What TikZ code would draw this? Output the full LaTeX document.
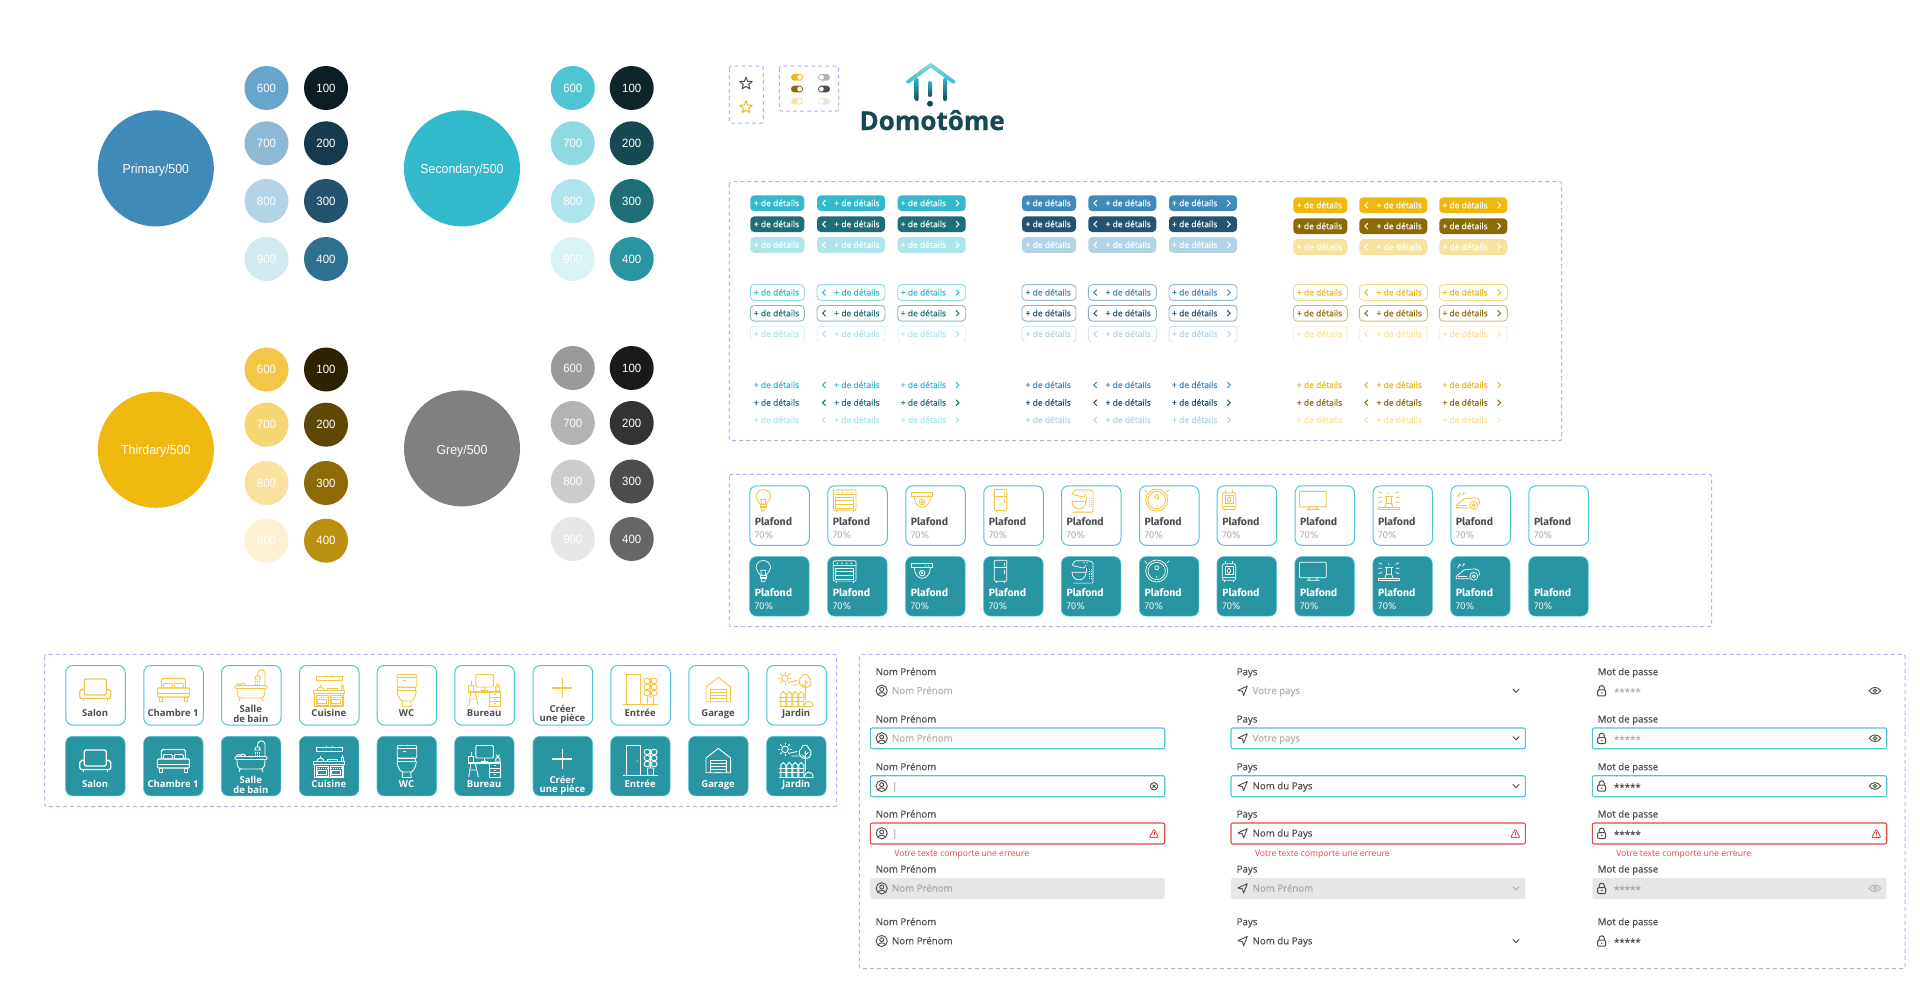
\documentclass[tikz,border=0pt]{standalone}
\usepackage{fontspec}
\usetikzlibrary{shapes.geometric}
\setmainfont{Open Sans}
\newfontfamily\osmed{Open Sans}[FakeBold=0.3]
\newfontfamily\osxb{Open Sans Bold}[FakeBold=0.7]
\newfontfamily\rbt{Liberation Sans}[FakeStretch=0.95]
\newfontfamily\fira{Fira Sans}
\newcommand\fsz[1]{\fontsize{#1}{#1}\selectfont}
\newcommand\lowlabel[2]{\raisebox{#1}[0pt][0pt]{#2}}
\newcount\nid
% palettes
\definecolor{pA}{HTML}{408ABA}\definecolor{pB}{HTML}{25526F}\definecolor{pC}{HTML}{B4D3E5}\definecolor{pD}{HTML}{8EB9D5}\definecolor{pE}{HTML}{8FAFC4}\definecolor{pF}{HTML}{D2E6F0}
\definecolor{cA}{HTML}{33B9CC}\definecolor{cB}{HTML}{1E6F75}\definecolor{cC}{HTML}{AEE5EA}\definecolor{cD}{HTML}{8DDAE1}\definecolor{cE}{HTML}{8FB7BA}\definecolor{cF}{HTML}{D9F3F5}
\definecolor{yA}{HTML}{EEB80F}\definecolor{yB}{HTML}{8C6B07}\definecolor{yC}{HTML}{F9E19F}\definecolor{yD}{HTML}{F6D98A}\definecolor{yE}{HTML}{CDB987}\definecolor{yF}{HTML}{FDF1D3}
\definecolor{teal4}{HTML}{2A95A2}\definecolor{cyan6}{HTML}{4FC5D3}\definecolor{yic}{HTML}{F3C647}
\definecolor{dk}{HTML}{4D4D4D}\definecolor{gb}{HTML}{B0B0B0}\definecolor{gc}{HTML}{A6A6A6}\definecolor{gdis}{HTML}{E6E6E6}
\definecolor{redd}{HTML}{E04848}\definecolor{dash}{HTML}{B9AEFA}\definecolor{logo}{HTML}{154A50}
\tikzset{
 box/.style={draw=dash,line width=1pt,dash pattern=on 4pt off 3pt,rounded corners=2pt},
 txt/.style={inner sep=0pt,outer sep=0pt},
 swatch/.style={circle,inner sep=0pt,minimum size=44pt,text=white,font=\rbt\fsz{12}},
 bigsw/.style={circle,inner sep=0pt,minimum size=116pt,text=white,font=\rbt\fsz{13}},
 btnf/.style={rectangle,rounded corners=4pt,inner sep=0pt,minimum height=15.7pt},
 btnt/.style={txt,anchor=base,font=\osmed\fsz{8.5}},
 card/.style={rectangle,rounded corners=7pt,inner sep=0pt,minimum width=59.5pt,minimum height=59.5pt,anchor=north west},
 cardw/.style={card,draw=cyan6,line width=1pt,fill=white},
 cardt/.style={card,draw=cyan6,line width=.6pt,fill=teal4},
 fbox/.style={line width=1.1pt,rounded corners=2pt},
 flab/.style={txt,anchor=base west,font=\osmed\fsz{9.7},text=dk},
 ftext/.style={txt,anchor=base west,font=\osmed\fsz{9.7}},
 toggle/.style={rounded corners=3.2pt},
}
% button rows
\newcommand\frow[5]{%
 \foreach \X/\W/\K in {#1/54/0,#2/68/1,#3/68/2}{%
  \node[btnf,fill=#5,minimum width=\W pt] at ({\X+\W/2},#4) {};
  \ifnum\K=1 \node[btnt,text=white] at (\X+39.9,#4+3) {+ de détails};\draw[white,line width=1pt,line cap=round] (\X+8.4,#4-2.8)--(\X+5.6,#4)--(\X+8.4,#4+2.8);\fi
  \ifnum\K=2 \node[btnt,text=white] at (\X+25.7,#4+3) {+ de détails};\draw[white,line width=1pt,line cap=round] (\X+58.4,#4-2.8)--(\X+61.2,#4)--(\X+58.4,#4+2.8);\fi
  \ifnum\K=0 \node[btnt,text=white] at (\X+26.2,#4+3) {+ de détails};\fi
 }}
\newcommand\orow[7]{% x1 x2 x3 y stroke text open
 \foreach \X/\W/\K in {#1/54/0,#2/68/1,#3/68/2}{%
  \ifnum#7=0
   \node[btnf,fill=white,draw=#5,line width=.9pt,minimum width=\W pt] at ({\X+\W/2},#4) {};
  \else
   \draw[#5,line width=.9pt,rounded corners=3pt] (\X+3,#4+7.6)--(\X,#4+7.6)--(\X,#4-7.6)--(\X+\W,#4-7.6)--(\X+\W,#4+7.6)--(\X+\W-3,#4+7.6);
  \fi
  \ifnum\K=1 \node[btnt,text=#6] at (\X+39.9,#4+3) {+ de détails};\draw[#6,line width=1pt,line cap=round] (\X+8.4,#4-2.8)--(\X+5.6,#4)--(\X+8.4,#4+2.8);\fi
  \ifnum\K=2 \node[btnt,text=#6] at (\X+25.7,#4+3) {+ de détails};\draw[#6,line width=1pt,line cap=round] (\X+58.4,#4-2.8)--(\X+61.2,#4)--(\X+58.4,#4+2.8);\fi
  \ifnum\K=0 \node[btnt,text=#6] at (\X+26.2,#4+3) {+ de détails};\fi
 }}
\newcommand\trow[5]{%
 \foreach \X/\W/\K in {#1/54/0,#2/68/1,#3/68/2}{%
  \ifnum\K=1 \node[btnt,text=#5] at (\X+39.9,#4+3) {+ de détails};\draw[#5,line width=1pt,line cap=round] (\X+8.4,#4-2.8)--(\X+5.6,#4)--(\X+8.4,#4+2.8);\fi
  \ifnum\K=2 \node[btnt,text=#5] at (\X+25.7,#4+3) {+ de détails};\draw[#5,line width=1pt,line cap=round] (\X+58.4,#4-2.8)--(\X+61.2,#4)--(\X+58.4,#4+2.8);\fi
  \ifnum\K=0 \node[btnt,text=#5] at (\X+26.2,#4+3) {+ de détails};\fi
 }}
% room icons (card-local coordinates)
\newcommand\icoSalon{%
 \draw[line width=1.3pt,rounded corners=2pt] (19,25)--(19,14)--(41,14)--(41,25);
 \draw[line width=1.3pt,rounded corners=2pt] (14.5,33.5)--(14.5,24.5)--(19,24)--(19,30)--(41,30)--(41,24)--(45.5,24.5)--(45.5,33.5)--cycle;
 \draw[line width=1.3pt] (18,33.5)--(18,35.5) (42,33.5)--(42,35.5);}
\newcommand\icoChambre{%
 \draw[line width=1.1pt,rounded corners=1.5pt] (18,23)--(18,13.5)--(42,13.5)--(42,23);
 \draw[rounded corners=1pt] (20,23) rectangle (29,18.5) (31,23) rectangle (40,18.5);
 \draw[line width=1.1pt,rounded corners=1pt] (14,23) rectangle (46,32);
 \draw (14,28)--(46,28);
 \draw (16,32) rectangle (19,36) (41,32) rectangle (44,36);}
\newcommand\icoBain{%
 \draw[rounded corners=1pt] (14,20.5) rectangle (46,23.5);
 \draw (16,23.5) .. controls (16,33) and (18,33) .. (22,33) -- (38,33) .. controls (42,33) and (44,33) .. (44,23.5);
 \draw (19,33)--(18,36) (41,33)--(42,36);
 \draw (15.5,20.5) arc (180:360:2) (19.5,20.5) arc (180:360:2.5);
 \draw (44,20.5)--(44,8.5) arc (0:-180:3.7)--(36.6,11);
 \draw (33.8,14)--(35,11)--(38.2,11)--(39.4,14)--cycle;
 \draw[densely dotted] (34.5,15.5)--(34.5,20) (36.6,15.5)--(36.6,20) (38.7,15.5)--(38.7,20);}
\newcommand\icoCuisine{%
 \draw (17.5,15) rectangle (43,11.5);
 \draw (27,11.5)--(27,10) (33,11.5)--(33,10);
 \draw (14,25.5) rectangle (45.5,28.5);
 \draw (15.5,28.5) rectangle (44,41);
 \draw (17,30) rectangle (29,40) (31,30) rectangle (43,40);
 \draw (18.5,34.5) rectangle (27.5,38.8) (32.5,34.5) rectangle (41.5,38.8);
 \draw[densely dotted] (18,32.2)--(28,32.2) (32,32.2)--(42,32.2);
 \draw (18,25.5) arc (180:360:3.5);\draw (21.5,22)--(21.5,20);
 \draw (42,25.5) rectangle (44,21) (43,21)--(43,18.5);
 \draw (28,25.5) rectangle (38,23.5);}
\newcommand\icoWC{%
 \draw[rounded corners=1pt] (20.5,9.5) rectangle (40,22);
 \draw (20.5,12.5)--(40,12.5) (26,15)--(29,15);
 \draw (21,22.5) rectangle (39,25);
 \draw (20.5,25) .. controls (20.5,33) and (25,36) .. (26,36) -- (34,36) .. controls (35,36) and (39.5,33) .. (39.5,25);
 \draw (26,36)--(25.5,41.5)--(34.5,41.5)--(34,36);}
\newcommand\icoBureau{%
 \draw[rounded corners=1pt] (21.5,9.5) rectangle (39,22);
 \draw (30,22)--(30,25.5) (26.5,25.5)--(33.5,25.5);
 \draw (14,26) rectangle (46,27.5);
 \draw (35.5,27.5) rectangle (46,41) (35.5,32)--(46,32) (35.5,36.5)--(46,36.5);
 \draw (39.5,29.7)--(42,29.7) (39.5,34.2)--(42,34.2) (39.5,38.7)--(42,38.7);
 \draw (16.5,27.5)--(14.5,41) (21,27.5)--(24,41) (16.5,34)--(22.5,34);
 \draw (14.5,26) rectangle (19,20) (16.7,20)--(16.7,16);
 \draw (41.5,26) rectangle (45.5,22) (43.5,22)--(42,18.5) (43.5,22)--(45,18.5);}
\newcommand\icoPlus{%
 \draw[line width=1.3pt] (19.7,23)--(39.7,23) (29.7,12.7)--(29.7,33.3);}
\newcommand\icoEntree{%
 \draw (16.3,39.3)--(16.3,9.3)--(30.3,9.3)--(30.3,39.3);
 \draw (13,39.3)--(47.3,39.3);
 \fill (27,25) circle (.6);
 \draw (37,32)--(43.5,32)--(43,39.3)--(37.5,39.3)--cycle;
 \draw (40.3,32)--(40.3,13);
 \foreach \v in {16,22,28}{\draw (36.8,\v) ellipse (3.1 and 2.7) (43.8,\v) ellipse (3.1 and 2.7);}}
\newcommand\icoGarage{%
 \draw (17.7,36.7)--(17.7,22)--(30,12.3)--(42.3,22)--(42.3,36.7)--cycle;
 \draw (21.7,36.7)--(21.7,24)--(38,24)--(38,36.7);
 \draw (21.7,27)--(38,27) (21.7,30)--(38,30) (21.7,33)--(38,33);
 \draw (27,36)--(33,36);}
\newcommand\icoJardin{%
 \draw (18.7,13.3) circle (3.3);
 \foreach \a in {0,45,...,315}{\draw (18.7,13.3)++(\a:4.6)--++(\a:2.2);}
 \draw (24,17)--(31,15.5) (25,20)--(33,20);
 \draw (39,22.5) .. controls (32,22.5) and (31.5,14) .. (35,12.5) .. controls (35.5,8) and (42,8) .. (42.5,12.5) .. controls (46,14) and (46,22.5) .. (39,22.5);
 \draw (39,15)--(39,35) (39,19)--(42,16.5) (39,22)--(36,19);
 \foreach \v in {14.5,20.5,26.5,32.5}{\draw (\v,41)--(\v,29)--(\v+2.5,26.5)--(\v+5,29)--(\v+5,41);}
 \draw (13,32)--(38,32) (13,36)--(38,36);
 \draw (12.5,41.5)--(47,41.5);
 \draw (38,41) .. controls (38,35) and (46,34) .. (47,41);}
% device icons
\newcommand\icoBulb{%
 \draw (11,19) .. controls (10,16) and (6.7,15) .. (6.7,11.5) arc (180:360:7.3) .. controls (21.3,15) and (18,16) .. (17,19) -- cycle;
 \draw (11,19) rectangle (17,22.5) (11,20.7)--(17,20.7);
 \draw (12,22.5)--(12.5,25.5)--(15.5,25.5)--(16,22.5);
 \draw (12,19)--(11.5,14)--(16.5,14)--(16,19);}
\newcommand\icoOven{%
 \draw[rounded corners=1pt] (6,4.5) rectangle (28.7,24.8);
 \draw (6,9.5)--(28.7,9.5);
 \foreach \v in {10,14.7,19.4,24}{\fill (\v,7) circle (.8);}
 \draw (8.5,12) rectangle (26.2,22.8) (8.5,15.5)--(26.2,15.5) (8.5,19)--(26.2,19);
 \draw (9,24.8)--(9,26.2) (25.7,24.8)--(25.7,26.2);}
\newcommand\icoCam{%
 \draw (6,7.5) rectangle (27,11.5);
 \draw (9,11.5) arc (180:0:8 and 10.5);
 \draw (16.8,16.8) circle (2.8) (16.8,16.8) circle (1);
 \fill (20,9.5) circle (.6) (23,9.5) circle (.6);}
\newcommand\icoFridge{%
 \draw[rounded corners=1pt] (11,4) rectangle (23.5,25);
 \draw (11,11.5)--(23.5,11.5) (21,7)--(21,9.5) (21,14)--(21,18);
 \draw (13,25)--(13,26.3) (21.5,25)--(21.5,26.3);}
\newcommand\icoMixer{%
 \draw[rounded corners=1pt] (12,26.8)--(32,26.8)--(32,6)--(28,4.5)--(14,4.5)--(11,9)--(23,12)--(25,9);
 \draw (11,16) .. controls (11,26) and (25,26) .. (25,16) -- cycle;
 \draw (25,16)--(25,12);
 \draw[densely dotted] (28,13)--(28,22) (30,13)--(30,22);
 \fill (23,6.5) circle (.7) (26,6.5) circle (.7);}
\newcommand\icoRobot{%
 \draw (17.7,14.7) circle (11) (17.7,14.7) circle (8.7) (17.7,11.5) circle (2);
 \draw (8,7)--(5.5,4.5) (27.5,7)--(30,4.5) (17.7,19.5)--(17.7,21.5);}
\newcommand\icoBoiler{%
 \draw[rounded corners=1.5pt] (5.5,7.5) rectangle (19,24);
 \draw (8.3,10.5) rectangle (16.3,18);
 \draw (12.3,11.5) .. controls (10,14) and (10,17) .. (12.3,17) .. controls (14.5,17) and (14.5,14) .. (12.3,11.5);
 \draw (9,7.5)--(9,4.5) (15.5,7.5)--(15.5,4.5) (8,24)--(8,26) (16.5,24)--(16.5,26) (6,21)--(18.5,21);}
\newcommand\icoTV{%
 \draw[rounded corners=.8pt] (5,6) rectangle (31.7,21.5);
 \draw (12,24)--(25,24) (15,21.5)--(14,24) (22,21.5)--(23,24);}
\newcommand\icoAlarm{%
 \draw (5.7,22.5) rectangle (26.7,24.5);
 \draw (12,22.5)--(13.5,18)--(19,18)--(20.5,22.5);
 \draw (13.5,18)--(13.5,11)--(19,11)--(19,18) (12,11)--(20.5,11);
 \draw (9.5,8)--(6,6.5) (9,12)--(5.7,12) (9.5,16)--(6,17.5) (23,8)--(26.5,6.5) (23.5,12)--(26.7,12) (23,16)--(26.5,17.5) (16.2,7)--(16.2,9);}
\newcommand\icoMower{%
 \draw (19,22.5)--(6,22.5)--(6,20)--(14,13.5)--(25,12.5) .. controls (28,12.5) and (29.3,15) .. (29.3,19);
 \draw (23.5,20) circle (4) (23.5,20) circle (1.5);
 \draw (8,20)--(17,20);
 \draw (7,12)--(9.5,8) (12,10)--(13.5,8);
 \fill (9.5,8.7) circle (1) (13.5,8) circle (1);}
% form icons
\newcommand\iUser[2]{\begin{scope}[shift={(#1,#2)},line width=.9pt]
 \draw (0,0) circle (5.6) (0,-1.3) circle (2);
 \draw (-3.6,4) .. controls (-3,1.2) and (3,1.2) .. (3.6,4);\end{scope}}
\newcommand\iNav[2]{\begin{scope}[shift={(#1,#2)},line width=.9pt,line join=round]
 \draw (-4.8,-.3)--(4.6,-4.6)--(.9,4.8)--(-.3,.6)--cycle;\end{scope}}
\newcommand\iLock[2]{\begin{scope}[shift={(#1,#2)},line width=1pt]
 \draw[rounded corners=1pt] (-4,-.8) rectangle (4,5.2);
 \draw (-2.6,-.8)--(-2.6,-2.6) arc (180:360:2.6)--(2.6,-.8);
 \fill (0,2.2) circle (.8);\end{scope}}
\newcommand\iEye[2]{\begin{scope}[shift={(#1,#2)},line width=.9pt]
 \draw (-5.8,0) .. controls (-3,-4.4) and (3,-4.4) .. (5.8,0) .. controls (3,4.4) and (-3,4.4) .. cycle;
 \draw (0,0) circle (1.8);\end{scope}}
\newcommand\iWarn[2]{\begin{scope}[shift={(#1,#2)},line width=.9pt,color=redd]
 \draw[rounded corners=1pt] (0,-4.6)--(4.6,3.8)--(-4.6,3.8)--cycle;
 \draw (0,-1.8)--(0,1);\fill (0,2.5) circle (.5);\end{scope}}
\newcommand\iClear[2]{\begin{scope}[shift={(#1,#2)},line width=.9pt]
 \draw (0,0) circle (3.7) (-1.5,-1.5)--(1.5,1.5) (-1.5,1.5)--(1.5,-1.5);\end{scope}}
\newcommand\iChev[2]{\begin{scope}[shift={(#1,#2)},line width=1pt,line cap=round]
 \draw (-3,-1.5)--(0,1.5)--(3,-1.5);\end{scope}}
\newcommand\sts{\raisebox{-1.5pt}{*****}}
\begin{document}
\begin{tikzpicture}[x=1pt,y=-1pt,every node/.append style={/utils/exec={\global\advance\nid by 1},name=n\the\nid}]
\useasboundingbox (0,0) rectangle (1920,1001);
\fill[white] (0,0) rectangle (1920,1001);
% ---- palettes
\node[bigsw,fill=pA] at (155.8,168.4) {\lowlabel{-4.7pt}{Primary/500}};
\foreach \X/\Y/\C/\T in {266.5/88/68A5CB/600,266.5/143.3/8EB9D5/700,266.5/201/B4D3E5/800,266.5/259/D2EAEF/900,326/88/0D1D24/100,326/143.3/17394D/200,326/201/25526F/300,326/259/30708F/400}{\definecolor{tmpc}{HTML}{\C}\node[swatch,fill=tmpc] at (\X,\Y) {\T};}
\node[bigsw,fill=cA] at (462,168.4) {\lowlabel{-4.7pt}{Secondary/500}};
\foreach \X/\Y/\C/\T in {572.8/88/4FC5D3/600,572.8/143.3/8DDAE1/700,572.8/201/AEE5EA/800,572.8/259/D9F3F5/900,631.7/88/0F2529/100,631.7/143.3/154A50/200,631.7/201/1E6F75/300,631.7/259/2A95A2/400}{\definecolor{tmpc}{HTML}{\C}\node[swatch,fill=tmpc] at (\X,\Y) {\T};}
\node[bigsw,fill=yA] at (155.8,449.8) {\lowlabel{-4.7pt}{Thirdary/500}};
\foreach \X/\Y/\C/\T in {266.5/369.5/F3C647/600,266.5/424.7/F6D573/700,266.5/483/F9E19F/800,266.5/540.7/FDF1D3/900,326/369.5/2E2300/100,326/424.7/5E4805/200,326/483/8C6B07/300,326/540.7/BB900F/400}{\definecolor{tmpc}{HTML}{\C}\node[swatch,fill=tmpc] at (\X,\Y) {\T};}
\node[bigsw,fill=black!50] at (462,448.4) {\lowlabel{-6.1pt}{Grey/500}};
\foreach \X/\Y/\C/\T in {572.8/368/999999/600,572.8/423/B3B3B3/700,572.8/481.5/CCCCCC/800,572.8/539/E6E6E6/900,631.7/368/1A1A1A/100,631.7/423/333333/200,631.7/481.5/4D4D4D/300,631.7/539/666666/400}{\definecolor{tmpc}{HTML}{\C}\node[swatch,fill=tmpc] at (\X,\Y) {\T};}
% ---- dashed panels
\draw[box] (729.3,66) rectangle (763.3,123);
\draw[box] (779.3,66) rectangle (838.7,111);
\draw[box] (729.3,181.7) rectangle (1561.7,440.7);
\draw[box] (729.3,474.3) rectangle (1711.6,626.7);
\draw[box] (44.7,654.3) rectangle (836.7,806.7);
\draw[box] (859.3,654.3) rectangle (1905,968.7);
% ---- stars
\node[star,star points=5,star point ratio=2.3,draw=dk,line width=1pt,line join=round,minimum size=13pt,inner sep=0pt] at (746,83.6) {};
\node[star,star points=5,star point ratio=2.3,draw=yA,line width=1pt,line join=round,minimum size=13pt,inner sep=0pt] at (746,107.3) {};
% ---- toggles
\foreach \Y/\C in {77.3/yA,89/yB,101.3/yC}{
 \fill[\C,toggle] (791,\Y-3.3) rectangle (803,\Y+3.3);
 \fill[white] (799.6,\Y) circle (2.4);}
\foreach \Y/\C in {77.3/black!30,89/dk,101.3/gdis}{
 \fill[\C,toggle] (818,\Y-3.3) rectangle (830,\Y+3.3);
 \fill[white] (821.4,\Y) circle (2.4);}
% ---- logo
\shade[top color=cD,bottom color=cA,rounded corners=1.5pt] (905.2,81.6)--(930.7,62.6)--(956.2,81.6)--(953.6,84.2)--(930.7,67.6)--(907.8,84.2)--cycle;
\shade[top color=cA,bottom color=logo,rounded corners=2pt] (914.7,78) rectangle (918.7,101);
\shade[top color=cA,bottom color=logo,rounded corners=2pt] (943,78) rectangle (947,101);
\shade[top color=cA,bottom color=logo,rounded corners=2pt] (928,81) rectangle (932,97);
\fill[logo] (930,103.7) circle (3);
\node[txt,anchor=base west,text=logo,font=\osxb\fsz{26}] (logotext) at (859.5,130) {Domotôme};
% ---- buttons
\frow{750.3}{817}{897.7}{203.2}{cA}\frow{750.3}{817}{897.7}{224.2}{cB}\frow{750.3}{817}{897.7}{244.9}{cC}
\frow{1022}{1088.3}{1169}{203.2}{pA}\frow{1022}{1088.3}{1169}{224.2}{pB}\frow{1022}{1088.3}{1169}{244.9}{pC}
\frow{1293.3}{1359.3}{1439.3}{205.3}{yA}\frow{1293.3}{1359.3}{1439.3}{226.2}{yB}\frow{1293.3}{1359.3}{1439.3}{247}{yC}
\orow{750.3}{817}{897.7}{292.5}{cD}{cA}{0}\orow{750.3}{817}{897.7}{313.3}{cE}{cB}{0}\orow{750.3}{817}{897.7}{334}{cF}{cC}{1}
\orow{1022}{1088.3}{1169}{292.5}{pD}{pA}{0}\orow{1022}{1088.3}{1169}{313.3}{pE}{pB}{0}\orow{1022}{1088.3}{1169}{334}{pF}{pC}{1}
\orow{1293.3}{1359.3}{1439.3}{292.5}{yD}{yA}{0}\orow{1293.3}{1359.3}{1439.3}{313.3}{yE}{yB}{0}\orow{1293.3}{1359.3}{1439.3}{334}{yF}{yC}{1}
\trow{750.3}{817}{897.7}{385}{cA}\trow{750.3}{817}{897.7}{402.7}{cB}\trow{750.3}{817}{897.7}{420}{cC}
\trow{1022}{1088.3}{1169}{385}{pA}\trow{1022}{1088.3}{1169}{402.7}{pB}\trow{1022}{1088.3}{1169}{420}{pC}
\trow{1293.3}{1359.3}{1439.3}{385}{yA}\trow{1293.3}{1359.3}{1439.3}{402.7}{yB}\trow{1293.3}{1359.3}{1439.3}{420}{yC}
% ---- device cards
\foreach \X/\I in {749.3/Bulb,827.3/Oven,905.3/Cam,983.3/Fridge,1061/Mixer,1139/Robot,1216.7/Boiler,1294.5/TV,1372.6/Alarm,1450.3/Mower,1528.4/None}{
 \node[cardw] at (\X,485.3) {};
 \node[card,cardt] at (\X,556.3) {};
 \node[txt,anchor=base west,text=dk,font=\fira\bfseries\fsz{10.5}] at (\X+5.6,525.3) {Plafond};
 \node[txt,anchor=base west,text=gb,font=\fira\fsz{10}] at (\X+5.6,538.3) {70\%};
 \node[txt,anchor=base west,text=white,font=\fira\bfseries\fsz{10.5}] at (\X+5.6,596.3) {Plafond};
 \node[txt,anchor=base west,text=white!85!teal4,font=\fira\fsz{10}] at (\X+5.6,609.3) {70\%};
 \begin{scope}[shift={(\X,485.3)},color=yic,line width=.9pt]\csname ico\I\endcsname\end{scope}
 \begin{scope}[shift={(\X,556.3)},color=white,line width=.7pt]\csname ico\I\endcsname\end{scope}
}
% ---- room cards
\foreach \X/\I/\La/\Ya/\Lb in {65.3/Salon/Salon/51.7/-,143.3/Chambre/Chambre 1/51.7/-,221/Bain/Salle/47.7/de bain,299/Cuisine/Cuisine/51.7/-,376.7/WC/WC/51.7/-,454.3/Bureau/Bureau/51.7/-,532.7/Plus/Créer/47/une pièce,610.3/Entree/Entrée/51.7/-,688.3/Garage/Garage/51.7/-,766.3/Jardin/Jardin/51.7/-}{
 \node[cardw] at (\X,665) {};
 \node[card,cardt] at (\X,736) {};
 \begin{scope}[shift={(\X,665)},color=yic,line width=.9pt]\csname ico\I\endcsname\end{scope}
 \begin{scope}[shift={(\X,736)},color=white,line width=.9pt]\csname ico\I\endcsname\end{scope}
 \node[txt,anchor=base,text=dk,font=\bfseries\fsz{9.5}] at (\X+29.8,665+\Ya) {\La};
 \node[txt,anchor=base,text=white,font=\bfseries\fsz{9.5}] at (\X+29.8,736+\Ya) {\La};
 \def\nodash{-}\ifx\Lb\nodash\else
 \node[txt,anchor=base,text=dk,font=\bfseries\fsz{9.5}] at (\X+29.8,665+\Ya+9.7) {\Lb};
 \node[txt,anchor=base,text=white,font=\bfseries\fsz{9.5}] at (\X+29.8,736+\Ya+9.7) {\Lb};\fi
}
% ---- form columns
\foreach \bx/\lx/\tx/\ix/\lab/\ico/\pa/\pb/\va/\vb in {
 870.3/875.7/892/881.7/Nom Prénom/\iUser/Nom Prénom/Nom Prénom/{\textcolor{gb}{|}}/Nom Prénom,
 1231/1236.7/1252.6/1242.7/Pays/\iNav/Votre pays/Nom Prénom/Nom du Pays/Nom du Pays,
 1592.3/1597.7/1614/1601.7/Mot de passe/\iLock/\sts/\sts/\sts/\sts}{
 \draw[fbox,draw=cyan6] (\bx,728) rectangle (\bx+294.4,748.7);
 \draw[fbox,draw=cyan6] (\bx,775.7) rectangle (\bx+294.4,796.7);
 \draw[fbox,draw=redd] (\bx,823) rectangle (\bx+294.4,844);
 \fill[gdis,rounded corners=2pt] (\bx,878) rectangle (\bx+294.4,899);
 \foreach \L in {675.2,722.5,770.2,817.5,872.5,925.2}{\node[flab] at (\lx,\L) {\lab};}
 \foreach \R in {690.7,738.3,786,833.3,888.3,941}{\begin{scope}[color=dk]\ico{\ix}{\R}\end{scope}}
 \node[ftext,text=gb] at (\tx,694) {\pa};
 \node[ftext,text=gb] at (\tx,741.6) {\pa};
 \node[ftext,text=dk] at (\tx,789.3) {\va};
 \node[ftext,text=dk] at (\tx,836.6) {\va};
 \node[ftext,text=gc] at (\tx,891.6) {\pb};
 \node[ftext,text=dk] at (\tx,944.3) {\vb};
 \node[txt,anchor=base west,text=redd,font=\fsz{8.6}] at (\tx+2.4,856) {Votre texte comporte une erreure};
}
\begin{scope}[color=dk]\iClear{1154}{786.3}\end{scope}
\iWarn{1154}{833.7}\iWarn{1515.3}{833.7}\iWarn{1876.3}{833.7}
\begin{scope}[color=dk]
 \iChev{1516}{690.7}\iChev{1516}{738.3}\iChev{1516}{786}\iChev{1516}{941}
 \iEye{1875}{690.7}\iEye{1875}{738.3}\iEye{1875}{786}
\end{scope}
\begin{scope}[color=gb]\iChev{1516}{888.3}\iEye{1875}{888.3}\end{scope}
\end{tikzpicture}
\end{document}
